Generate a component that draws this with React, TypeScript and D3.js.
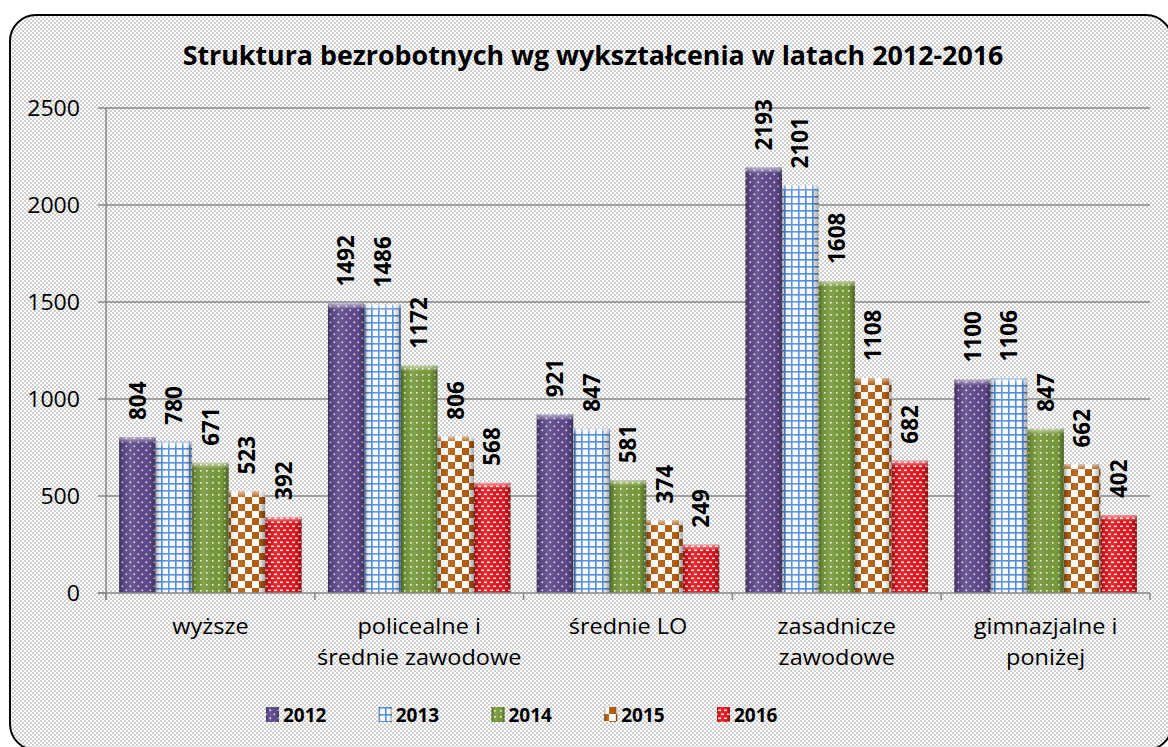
import React from "react";
import * as d3 from "d3";

const categories: string[][] = [
  ["wyższe"],
  ["policealne i", "średnie zawodowe"],
  ["średnie LO"],
  ["zasadnicze", "zawodowe"],
  ["gimnazjalne i", "poniżej"],
];
const years = ["2012", "2013", "2014", "2015", "2016"];
const v2012 = [804, 1492, 921, 2193, 1100];
const v2013 = [780, 1486, 847, 2101, 1106];
const v2014 = [671, 1172, 581, 1608, 847];
const v2015 = [523, 806, 374, 1108, 662];
const v2016 = [392, 568, 249, 682, 402];
const series = [v2012, v2013, v2014, v2015, v2016];
const yTicks = [0, 500, 1000, 1500, 2000, 2500];
const title = "Struktura bezrobotnych wg wykształcenia w latach 2012-2016";

const FONT = "'Open Sans', sans-serif";

export default function App() {
  const W = 1168, H = 747;
  const plotL = 106, plotR = 1150, plotT = 108, plotB = 593;
  const y = d3.scaleLinear().domain([0, 2500]).range([plotB, plotT]);
  const x0 = d3.scaleBand<number>().domain(d3.range(categories.length)).range([plotL, plotR]).paddingInner(0).paddingOuter(0);
  const x1 = d3.scaleBand<string>().domain(years).range([0, x0.bandwidth()]).paddingInner(0).paddingOuter(0.36);
  const bw = x1.bandwidth();
  const fills = ["url(#p2012)", "url(#p2013)", "url(#p2014)", "url(#p2015)", "url(#p2016)"];
  const legendX = d3.scaleLinear().domain([0, 4]).range([266, 717]);

  return (
    <svg width={W} height={H} style={{ position: "absolute", left: 0, top: 0, display: "block" }}>
      <defs>
        <pattern id="bg" width="4" height="4" patternUnits="userSpaceOnUse">
          <rect width="4" height="4" fill="#ffffff" />
          <rect x="0" y="0" width="2" height="2" fill="#cfcfcf" />
          <rect x="2" y="2" width="2" height="2" fill="#cfcfcf" />
        </pattern>
        <pattern id="p2012" width="8" height="8" patternUnits="userSpaceOnUse">
          <rect width="8" height="8" fill="#5f4a8b" />
          <rect x="1.5" y="1.5" width="1.6" height="1.6" fill="#e8e2f2" />
          <rect x="5.5" y="5.5" width="1.6" height="1.6" fill="#e8e2f2" />
        </pattern>
        <pattern id="p2013" width="7" height="7" patternUnits="userSpaceOnUse">
          <rect width="7" height="7" fill="#ffffff" />
          <rect x="0" y="0" width="7" height="1.6" fill="#4f8fe0" />
          <rect x="0" y="0" width="1.6" height="7" fill="#4f8fe0" />
        </pattern>
        <pattern id="p2014" width="6" height="6" patternUnits="userSpaceOnUse">
          <rect width="6" height="6" fill="#789a3c" />
          <rect x="2" y="2" width="1.6" height="1.6" fill="#f2f7e6" />
        </pattern>
        <pattern id="p2015" width="14" height="14" patternUnits="userSpaceOnUse">
          <rect width="14" height="14" fill="#ffffff" />
          <rect x="0" y="0" width="7" height="7" fill="#b45f0e" />
          <rect x="7" y="7" width="7" height="7" fill="#b45f0e" />
        </pattern>
        <pattern id="p2016" width="6" height="8" patternUnits="userSpaceOnUse">
          <rect width="6" height="8" fill="#e4141c" />
          <rect x="1" y="1.5" width="3" height="1.6" fill="#ffe6e6" />
          <rect x="4" y="5.5" width="3" height="1.6" fill="#ffe6e6" />
          <rect x="-2" y="5.5" width="3" height="1.6" fill="#ffe6e6" />
        </pattern>
        <linearGradient id="bevelH" x1="0" x2="1" y1="0" y2="0">
          <stop offset="0" stopColor="#000" stopOpacity="0.35" />
          <stop offset="0.12" stopColor="#000" stopOpacity="0.05" />
          <stop offset="0.3" stopColor="#fff" stopOpacity="0.1" />
          <stop offset="0.8" stopColor="#000" stopOpacity="0.0" />
          <stop offset="1" stopColor="#000" stopOpacity="0.35" />
        </linearGradient>
        <linearGradient id="bevelT" x1="0" x2="0" y1="0" y2="1">
          <stop offset="0" stopColor="#fff" stopOpacity="0.55" />
          <stop offset="1" stopColor="#fff" stopOpacity="0" />
        </linearGradient>
      </defs>

      <rect x={10} y={15} width={1162} height={735} rx={26} ry={26} fill="url(#bg)" stroke="#000" strokeWidth={2} />

      <text x={593} y={64.5} textAnchor="middle" fontFamily={FONT} fontWeight="bold" fontSize={26.8} fill="#000">
        {title}
      </text>

      {/* gridlines */}
      {yTicks.map((t) => (
        <g key={"g" + t}>
          {t > 0 && <line x1={plotL} x2={plotR} y1={y(t)} y2={y(t)} stroke="#878787" strokeWidth={1.5} />}
          <line x1={plotL - 8} x2={plotL} y1={y(t)} y2={y(t)} stroke="#878787" strokeWidth={1.5} />
          <text
            transform={`translate(80,${y(t)}) scale(1.1,1)`}
            dy="0.36em"
            textAnchor="end"
            fontFamily={FONT}
            fontSize={21}
            fill="#000"
          >
            {t}
          </text>
        </g>
      ))}

      {/* bars */}
      {series.map((vals, si) => (
        <g key={"s" + si}>
          {vals.map((v, ci) => {
            const bx = (x0(ci) as number) + (x1(years[si]) as number);
            const by = y(v);
            const bh = plotB - by;
            return (
              <g key={ci}>
                <rect x={bx} y={by} width={bw} height={bh} fill={fills[si]} />
                <rect x={bx} y={by} width={bw} height={bh} fill="url(#bevelH)" />
                <rect x={bx} y={by} width={bw} height={Math.min(6, bh)} fill="url(#bevelT)" />
                <text
                  transform={`translate(${bx + bw / 2},${by - 17}) rotate(-90)`}
                  dy="0.36em"
                  textAnchor="start"
                  fontFamily={FONT}
                  fontWeight="bold"
                  fontSize={22.5}
                  fill="#000"
                >
                  {v}
                </text>
              </g>
            );
          })}
        </g>
      ))}

      {/* axes */}
      <line x1={plotL} x2={plotL} y1={plotT} y2={plotB + 7} stroke="#878787" strokeWidth={1.5} />
      <line x1={plotL - 8} x2={plotR} y1={plotB} y2={plotB} stroke="#878787" strokeWidth={1.5} />
      {d3.range(categories.length + 1).map((i) => {
        const xx = plotL + i * x0.step();
        return <line key={"t" + i} x1={xx} x2={xx} y1={plotB} y2={plotB + 7} stroke="#878787" strokeWidth={1.5} />;
      })}

      {categories.map((lines, ci) =>
        lines.map((ln, li) => (
          <text
            key={"c" + ci + "_" + li}
            transform={`translate(${(x0(ci) as number) + x0.bandwidth() / 2},${634 + li * 31}) scale(1.12,1)`}
            textAnchor="middle"
            fontFamily={FONT}
            fontSize={21}
            fill="#000"
          >
            {ln}
          </text>
        ))
      )}

      {/* legend */}
      {years.map((yr, i) => (
        <g key={"l" + yr}>
          <rect x={legendX(i)} y={707} width={13} height={15} fill={fills[i]} />
          <rect x={legendX(i)} y={707} width={13} height={15} fill="url(#bevelH)" />
          <text x={legendX(i) + 17} y={722} fontFamily={FONT} fontWeight="bold" fontSize={19} fill="#000">
            {yr}
          </text>
        </g>
      ))}
    </svg>
  );
}
